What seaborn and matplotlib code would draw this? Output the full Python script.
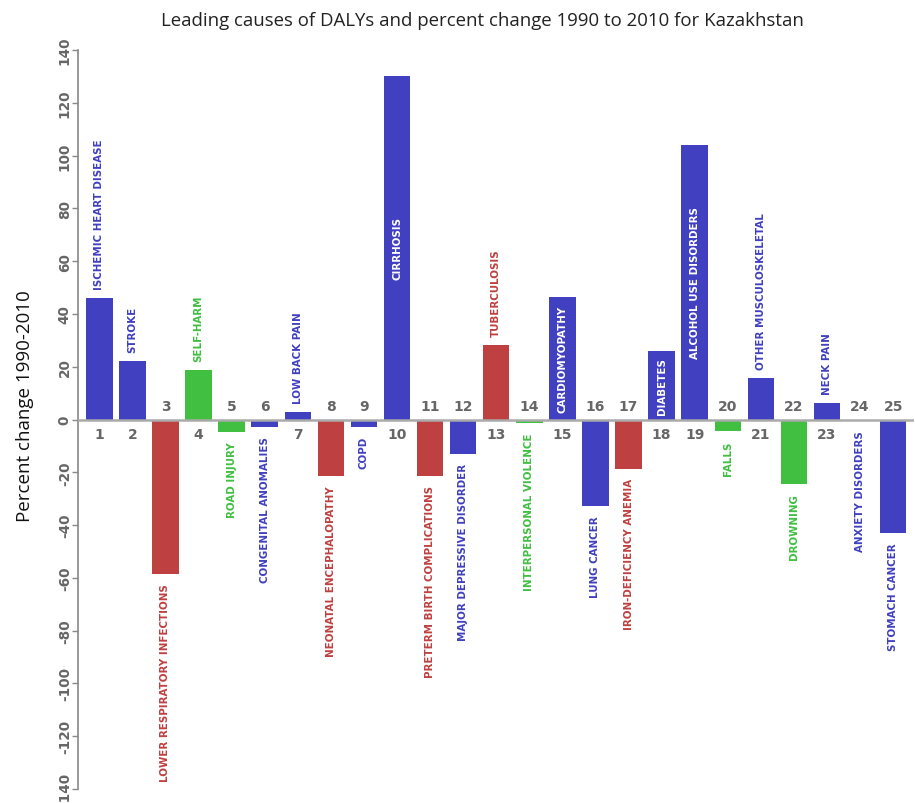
import pandas as pd
import matplotlib.pyplot as plt
import seaborn as sns

# === Data ===
ranks = [str(i) for i in range(1, 26)]
causes = [
    "ISCHEMIC HEART DISEASE", "STROKE", "LOWER RESPIRATORY INFECTIONS", "SELF-HARM",
    "ROAD INJURY", "CONGENITAL ANOMALIES", "LOW BACK PAIN", "NEONATAL ENCEPHALOPATHY",
    "COPD", "CIRRHOSIS", "PRETERM BIRTH COMPLICATIONS", "MAJOR DEPRESSIVE DISORDER",
    "TUBERCULOSIS", "INTERPERSONAL VIOLENCE", "CARDIOMYOPATHY", "LUNG CANCER",
    "IRON-DEFICIENCY ANEMIA", "DIABETES", "ALCOHOL USE DISORDERS", "FALLS",
    "OTHER MUSCULOSKELETAL", "DROWNING", "NECK PAIN", "ANXIETY DISORDERS", "STOMACH CANCER",
]
pct_change = [
    45.9, 22.0, -58.7, 18.6, -4.8, -2.7, 3.0, -21.5, -2.9, 130.1,
    -21.5, -13.2, 28.2, -1.4, 46.3, -32.9, -18.8, 25.8, 103.9, -4.4,
    15.6, -24.5, 6.1, -0.6, -43.1,
]
groups = [
    "ncd", "ncd", "comm", "inj", "inj", "ncd", "ncd", "comm", "ncd", "ncd",
    "comm", "ncd", "comm", "inj", "ncd", "ncd", "comm", "ncd", "ncd", "inj",
    "ncd", "inj", "ncd", "ncd", "ncd",
]
# labels drawn inside their bar (white)
inside = ["CIRRHOSIS", "CARDIOMYOPATHY", "DIABETES", "ALCOHOL USE DISORDERS"]

palette = {"ncd": "#4040c0", "comm": "#bf4040", "inj": "#40bf40"}

df = pd.DataFrame({"rank": ranks, "cause": causes, "change": pct_change, "group": groups})

# === Plot ===
sns.set_style("white")
plt.rcParams["axes.unicode_minus"] = False
fig = plt.figure(figsize=(9.15, 8.04), dpi=100)
ax = fig.add_axes([78 / 915, 1 - 790 / 804, (914 - 78) / 915, (790 - 51) / 804])

sns.barplot(data=df, x="rank", y="change", hue="group", order=ranks,
            palette=palette, dodge=False, width=0.8, saturation=1,
            linewidth=0, legend=False, ax=ax)

ax.set_xlim(-0.645, 24.63)
ax.set_ylim(-140, 140)
ax.axhline(0, color="#aaaaaa", lw=1.8, zorder=3)

for i, row in df.iterrows():
    v = row["change"]
    col = palette[row["group"]]
    # rank number on the other side of the zero line
    ax.annotate(row["rank"], (i, 0), xytext=(0, -10.6 if v > 0 else 9.9),
                textcoords="offset points", ha="center", va="center",
                fontsize=10, fontweight="bold", color="#666666",
                family="DejaVu Sans")
    if row["cause"] in inside:
        ax.text(i, v / 2, row["cause"], rotation=90, ha="center", va="center",
                fontsize=7.4, fontweight="bold", color="white", family="DejaVu Sans")
    else:
        ax.annotate(row["cause"], (i, v), xytext=(0, 6.5 if v > 0 else -6.5),
                    textcoords="offset points", rotation=90, ha="center",
                    va="bottom" if v > 0 else "top", fontsize=7.4,
                    fontweight="bold", color=col, family="DejaVu Sans")

ax.set_xticks([])
ax.set_xlabel("")
ax.set_ylabel("")
ax.set_yticks(range(-140, 141, 20))
ax.tick_params(axis="y", direction="out", length=4, width=1, color="#888888",
               pad=0.5, labelsize=9.8, labelcolor="#666666", left=True)
for lab in ax.get_yticklabels():
    lab.set_rotation(90)
    lab.set_va("center")
    lab.set_fontweight("bold")
    lab.set_family("DejaVu Sans")

for s in ["top", "right", "bottom"]:
    ax.spines[s].set_visible(False)
ax.spines["left"].set_color("#888888")
ax.spines["left"].set_linewidth(1.2)

fig.text(482 / 915, 1 - 21 / 804, "Leading causes of DALYs and percent change 1990 to 2010 for Kazakhstan",
         ha="center", va="center", fontsize=13.4, family="Open Sans", color="#222222")
fig.text(25 / 915, 1 - 406 / 804, "Percent change 1990-2010", rotation=90,
         ha="center", va="center", fontsize=13.5, family="Open Sans", color="#111111")

plt.savefig("out.png", dpi=100)
